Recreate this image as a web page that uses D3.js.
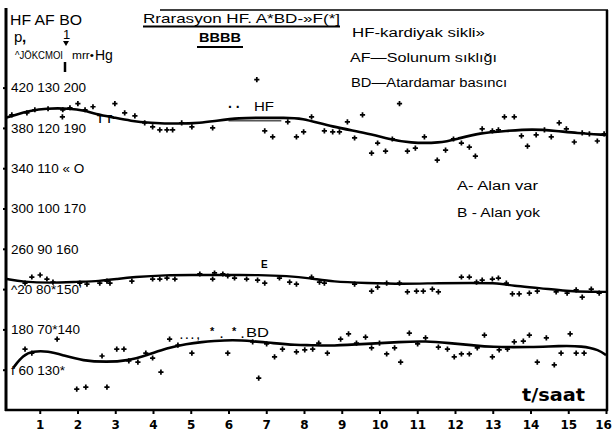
<!DOCTYPE html>
<html>
<head>
<meta charset="utf-8">
<script src="https://cdn.jsdelivr.net/npm/d3@7"></script>
<style>
  body { margin: 0; background: #fff; }
  svg { display: block; font-family: "Liberation Sans", Arial, sans-serif; }
</style>
</head>
<body>
<svg id="chart" width="613" height="433"></svg>
<script>
// --- Datos (t en saat) ---
const hours = [1, 2, 3, 4, 5, 6, 7, 8, 9, 10, 11, 12, 13, 14, 15, 16];
const hfTicks = [420, 380, 340, 300, 260, 220, 180, 140];
const leftLabels = ["420 130 200", "380 120 190", "340 110 \u00ab O", "300 100 170",
    "260 90 160", "^20 80*150'", "180  70*140", "f  60  130*"];

// HF - kardiyak siklus
const hfFitT = [0.1, 0.35, 0.75, 1.15, 1.8, 2.2, 2.45, 3.0, 3.4, 3.9, 4.7, 5.25, 5.65, 6.3, 6.85, 7.5, 7.9, 8.75, 9.65, 10.25, 10.8, 11.6, 12.05, 12.65, 13.35, 14.05, 14.7, 15.2, 16];
const hfFit = [390, 393, 397, 399.5, 399.5, 397, 394, 390, 387, 385, 384, 385, 387, 390, 390, 390, 390, 381, 375, 369, 365, 365, 369, 375, 377, 379, 377, 375, 373];
const hfDotT = [0.26, 0.66, 0.87, 1.22, 1.61, 1.6, 1.8, 2.01, 2.2, 2.41, 2.99, 3.25, 3.52, 3.78, 3.99, 4.18, 4.37, 4.52, 4.76, 5.03, 5.58, 6.75, 6.96, 7.17, 7.57, 7.8, 7.99, 8.2, 8.54, 8.76, 8.94, 9.15, 9.34, 9.55, 9.79, 9.95, 10.16, 10.34, 10.53, 10.74, 10.95, 11.19, 11.53, 11.75, 11.96, 12.17, 12.38, 12.54, 12.72, 12.99, 13.15, 13.31, 13.57, 13.76, 13.92, 14.15, 14.37, 14.55, 14.76, 14.95, 15.16, 15.37, 15.56, 15.77, 15.95];
const hfDot = [393, 395, 398, 399, 398, 391, 400, 404, 398, 401, 404, 395, 392, 385, 381, 378, 378, 378, 385, 381, 380, 428, 377, 371, 386, 371, 376, 391, 377, 376, 376, 386, 370, 393, 355, 365, 357, 369, 404, 357, 360, 371, 348, 358, 369, 365, 361, 352, 379, 377, 378, 391, 391, 372, 362, 373, 378, 371, 385, 379, 366, 375, 374, 367, 374];
const hfThinT = [6.0, 7.4];
const hfThin = [387, 387];

// AF - solunum sikligi
const afFitT = [0.13, 0.56, 1.27, 1.98, 2.59, 3.04, 3.47, 4.37, 5.05, 5.58, 6.9, 7.54, 8.15, 8.76, 9.66, 10.61, 11.59, 12.46, 13.17, 13.52, 14.23, 14.95, 15.64, 16];
const afFit = [82.5, 81.8, 81.5, 81.8, 82, 82.5, 83, 83.5, 83.5, 83.5, 83.5, 83.25, 82.75, 81.8, 81.5, 81.25, 81.5, 81.5, 81.5, 80.8, 80.3, 79.5, 79.3, 79.3];
const afDotT = [0.61, 0.79, 1.01, 1.19, 1.35, 2.06, 2.25, 2.59, 2.78, 2.86, 3.44, 3.99, 4.18, 4.37, 4.58, 5.24, 5.58, 5.63, 5.85, 5.98, 6.16, 6.48, 6.77, 6.96, 7.35, 7.62, 7.8, 8.2, 8.41, 8.54, 9.34, 9.79, 9.95, 10.19, 10.53, 10.74, 10.98, 11.16, 11.4, 11.56, 12.17, 12.38, 12.57, 12.72, 12.99, 13.15, 13.36, 13.52, 13.7, 13.97, 14.18, 14.68, 14.97, 15.21, 15.37, 15.61, 15.82];
const afDot = [81.5, 83, 83.5, 82.5, 81.75, 81.5, 81.25, 81.5, 82, 81.5, 82, 82.5, 82.5, 82.75, 82.5, 83.75, 82.5, 84, 83.75, 83.25, 82.75, 82.5, 82.25, 81.5, 82.75, 81.75, 81.25, 83, 81.75, 81.5, 81.25, 79.5, 80.5, 81.5, 81.5, 79.3, 79.5, 79.5, 80, 79.3, 83, 83, 81.75, 82.25, 82.5, 82.75, 81.5, 78.8, 78.8, 79, 79.5, 79.3, 79, 79.8, 78, 80, 79];

// BD - atardamar basinci
const bdFitT = [0.3, 0.56, 0.82, 1.22, 1.61, 2.14, 2.78, 3.31, 3.84, 4.37, 4.89, 5.32, 5.58, 6.11, 6.64, 7.17, 7.8, 8.15, 8.76, 9.66, 10.53, 11.24, 11.85, 12.46, 12.91, 14.05, 14.76, 15.37, 15.82, 16];
const bdFit = [130.5, 133.6, 134.6, 134.6, 133.6, 132.2, 131.9, 132.2, 133.6, 135.4, 136.4, 136.9, 137.1, 137.4, 137.1, 136.6, 136.1, 136.1, 135.9, 136.4, 136.9, 137.1, 136.6, 136.1, 135.6, 135.6, 135.9, 135.9, 134.9, 133.6];
const bdDotT = [0.61, 0.79, 1.46, 1.98, 2.22, 2.65, 2.78, 3.04, 3.23, 3.36, 3.6, 3.81, 3.99, 4.21, 4.44, 4.66, 5.03, 5.98, 6.64, 6.8, 7.01, 7.22, 7.43, 7.8, 8.02, 8.23, 8.39, 8.62, 8.97, 9.18, 9.39, 9.63, 9.79, 10.0, 10.19, 10.4, 10.56, 10.79, 11.01, 11.22, 11.56, 11.8, 11.98, 12.17, 12.38, 12.59, 12.78, 12.99, 13.17, 13.39, 13.57, 13.81, 13.97, 14.18, 14.42, 14.63, 14.81, 15.05, 15.21, 15.42];
const bdDot = [135.1, 134.1, 137.6, 125.2, 125.7, 133.4, 125.7, 135.1, 135.1, 132.2, 131.9, 134.1, 132.9, 129.4, 137.6, 136.1, 134.1, 134.1, 136.9, 127.9, 136.4, 133.2, 135.1, 134.4, 134.9, 135.1, 136.6, 134.1, 137.6, 138.9, 136.6, 138.1, 135.4, 136.6, 133.9, 135.4, 131.9, 139.1, 136.4, 137.9, 135.6, 135.1, 133.2, 133.9, 133.9, 135.4, 138.6, 133.2, 134.9, 135.1, 136.9, 137.1, 138.6, 131.9, 137.9, 131.2, 134.1, 138.9, 134.1, 134.1];

const svg = d3.select("#chart");

const x = d3.scaleLinear().domain([0, 16]).range([2, 606]);
const yHF = d3.scaleLinear().domain([100, 500]).range([410, 7]);
const yAF = d3.scaleLinear().domain([50, 150]).range([410, 7]);
const yBD = d3.scaleLinear().domain([120, 220]).range([410, 7]);

// --- cerceve ---
const frame = svg.append("g").attr("stroke", "#000").attr("fill", "none");
frame.append("line").attr("x1", 6).attr("x2", 6).attr("y1", 8).attr("y2", 411).attr("stroke-width", 3);
frame.append("line").attr("x1", 607).attr("x2", 607).attr("y1", 10).attr("y2", 411).attr("stroke-width", 2.5);
frame.append("line").attr("x1", 160).attr("x2", 608).attr("y1", 10).attr("y2", 10).attr("stroke-width", 1.5);

// --- eksenler ---
const xAxis = svg.append("g")
    .attr("transform", "translate(0,410)")
    .call(d3.axisBottom(x).tickValues(hours).tickSize(4).tickPadding(6).tickFormat(d3.format("d")));
xAxis.select(".domain").attr("d", "M5,0H608").attr("stroke-width", 2.5);
xAxis.selectAll(".tick line").attr("stroke-width", 2);
xAxis.selectAll("text").attr("font-size", 12).attr("font-weight", "bold")
    .attr("font-family", "'DejaVu Sans', sans-serif").attr("fill", "#000")
    .attr("dx", d => d === 16 ? -3 : 0);

const yAxis = svg.append("g")
    .attr("transform", "translate(6,0)")
    .call(d3.axisRight(yHF).tickValues(hfTicks).tickSize(-3).tickPadding(5)
        .tickFormat((d, i) => leftLabels[i]));
yAxis.select(".domain").remove();
yAxis.selectAll(".tick line").attr("stroke-width", 2);
yAxis.selectAll("text").attr("font-size", 13.5).attr("fill", "#000")
    .attr("font-family", "'Liberation Sans', Arial, sans-serif");

// --- egriler ---
function drawSeries(tArr, vArr, y, w) {
    const pts = tArr.map((t, i) => [t, vArr[i]]);
    svg.append("path")
        .datum(pts)
        .attr("fill", "none")
        .attr("stroke", "#000")
        .attr("stroke-width", w)
        .attr("stroke-linejoin", "round")
        .attr("d", d3.line().x(d => x(d[0])).y(d => y(d[1])).curve(d3.curveBasis));
}
function drawDots(tArr, vArr, y) {
    svg.append("g").selectAll("path")
        .data(tArr.map((t, i) => [t, vArr[i]]))
        .enter()
        .append("path")
        .attr("transform", d => `translate(${x(d[0])},${y(d[1])})`)
        .attr("d", d3.symbol(d3.symbolCross, 15))
        .attr("fill", "#000");
}

drawSeries(hfFitT, hfFit, yHF, 2.6);
drawSeries(hfThinT, hfThin, yHF, 1);
drawDots(hfDotT, hfDot, yHF);
drawSeries(afFitT, afFit, yAF, 2.4);
drawDots(afDotT, afDot, yAF);
drawSeries(bdFitT, bdFit, yBD, 2.6);
drawDots(bdDotT, bdDot, yBD);

// --- yazilar ---
function txt(px, py, s, size, opts = {}) {
    const t = svg.append("text")
        .attr("x", px).attr("y", py)
        .attr("font-size", size)
        .attr("fill", "#000")
        .text(s);
    if (opts.len) t.attr("textLength", opts.len).attr("lengthAdjust", "spacingAndGlyphs");
    if (opts.bold) t.attr("font-weight", "bold");
    if (opts.italic) t.attr("font-style", "italic");
    if (opts.family) t.attr("font-family", opts.family);
    return t;
}

txt(10, 25, "HF AF BO", 14, { len: 72 });
txt(14, 42, "p", 15);
txt(22, 42, ",", 15, { bold: true });
txt(63, 39, "1", 13);
svg.append("path").attr("d", "M63,41 L69,41 L66,46 Z").attr("fill", "#000");
txt(15, 59, "^JÖKCMOI", 10, { len: 48 });
txt(72, 59, "mrr•", 10, { len: 22 });
txt(95, 60, "Hg", 14);
svg.append("line").attr("x1", 65).attr("x2", 65).attr("y1", 62).attr("y2", 72)
    .attr("stroke", "#000").attr("stroke-width", 2.5);

txt(143, 23, "Rrarasyon   HF. A*BD-»F(*]", 13, { len: 197 });
svg.append("line").attr("x1", 143).attr("x2", 340).attr("y1", 26.5).attr("y2", 26.5)
    .attr("stroke", "#000").attr("stroke-width", 2);
txt(199, 42, "BBBB", 13, { len: 42, bold: true });
svg.append("line").attr("x1", 197).attr("x2", 243).attr("y1", 47).attr("y2", 47)
    .attr("stroke", "#000").attr("stroke-width", 2);

txt(352, 37, "HF-kardiyak sikli»", 12, { len: 133 });
txt(350, 62, "AF—Solunum sıklığı", 12.5, { len: 147 });
txt(351, 87, "BD—Atardamar  basıncı", 12.5, { len: 156 });
txt(457, 190, "A- Alan var", 12.5, { len: 81 });
txt(457, 217, "B - Alan yok", 12.5, { len: 83 });

txt(228, 108, ". .", 14, { bold: true });
txt(254, 111, "HF", 13.5, { len: 20 });
txt(97, 123, "T T", 10, { len: 15, bold: true });
txt(261, 268, "E", 10, { bold: true });
txt(180, 339, ". . . ,", 10, { bold: true });
txt(210, 335, "*", 11, { bold: true });
txt(220, 338, ".", 11, { bold: true });
txt(232, 335, "*", 11, { bold: true });
txt(241, 338, ".", 11, { bold: true });
txt(246, 337, "BD", 13.5, { len: 23 });
txt(522, 401, "t/saat", 17, { len: 63, bold: true, family: "'DejaVu Sans', sans-serif" });
</script>
</body>
</html>
